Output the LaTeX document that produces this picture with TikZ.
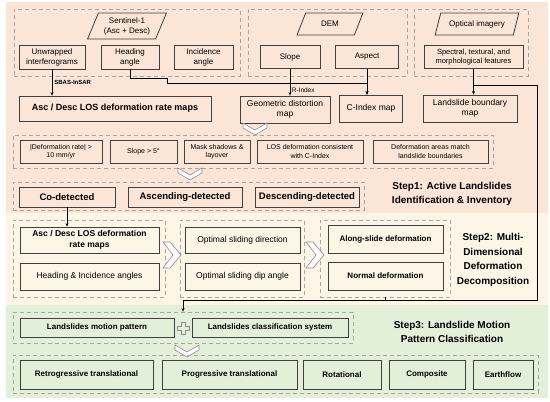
\documentclass[tikz,border=0pt]{standalone}
\usepackage{fontspec}
\setmainfont{Liberation Sans}
\usetikzlibrary{shapes.geometric,arrows.meta}

\definecolor{peachbg}{HTML}{FBE5D6}
\definecolor{creambg}{HTML}{FDF5E6}
\definecolor{greenbg}{HTML}{E2F0D9}
\definecolor{boxline}{HTML}{404040}
\definecolor{grpline}{HTML}{A6A6A6}
\definecolor{chevline}{HTML}{8C8C8C}

\tikzset{
  box/.style={draw=boxline, line width=0.8pt, inner sep=1pt, align=center,
    font=\fontsize{8}{10}\selectfont},
  boldbox/.style={box, font=\bfseries\fontsize{8}{10}\selectfont},
  smallbox/.style={box, font=\fontsize{7}{8.5}\selectfont},
  grp/.style={draw=grpline, line width=0.7pt, dash pattern=on 4pt off 3pt},
  datain/.style={trapezium, trapezium left angle=65, trapezium right angle=115,
    trapezium stretches=true, draw=boxline, line width=0.8pt, inner sep=1pt,
    align=center, font=\fontsize{8}{10}\selectfont},
  link/.style={draw=black, line width=0.7pt},
  arrowlink/.style={link, -{Stealth[length=3.5pt,width=3pt]}},
  steplabel/.style={align=center, font=\bfseries\fontsize{10}{14.5}\selectfont},
  chev/.style={draw=chevline, fill=white, line width=0.6pt, line join=miter},
  chevdown/.pic={\draw[chev] (-12,-6) -- (0,1) -- (12,-6) -- (12,-1) -- (0,6) -- (-12,-1) -- cycle;},
  chevright/.pic={\draw[chev] (-9,-13) -- (1,0) -- (-9,13) -- (-2,13) -- (9,0) -- (-2,-13) -- cycle;},
}

\begin{document}
\begin{tikzpicture}[x=1pt,y=-1pt]
  \useasboundingbox (0,0) rectangle (550,402);
  % step backgrounds
  \fill[peachbg] (6,2) rectangle (548,213);
  \fill[creambg] (6,213) rectangle (548,305);
  \fill[greenbg] (6,305) rectangle (548,398);

  % step 1: data sources
  \node[grp, minimum width=226pt, minimum height=67pt] (gsen) at (127,42.5) {};
  \node[grp, minimum width=159pt, minimum height=67pt] (gdem) at (327.5,42.5) {};
  \node[grp, minimum width=114pt, minimum height=67pt] (gopt) at (471,42.5) {};
  \node[datain, fill=peachbg, minimum width=79pt, minimum height=26pt] (sen) at (127,26) {Sentinel-1\\(Asc + Desc)};
  \node[datain, fill=peachbg, minimum width=66pt, minimum height=22pt] (dem) at (330,24) {DEM};
  \node[datain, fill=peachbg, minimum width=84pt, minimum height=22pt] (opt) at (477,24) {Optical imagery};
  \node[box, fill=peachbg, minimum width=66pt, minimum height=24pt] (unw) at (52,57) {Unwrapped\\interferograms};
  \node[box, fill=peachbg, minimum width=58pt, minimum height=24pt] (head) at (130,57) {Heading\\angle};
  \node[box, fill=peachbg, minimum width=59pt, minimum height=24pt] (inc) at (203.5,57) {Incidence\\angle};
  \node[box, fill=peachbg, minimum width=60pt, minimum height=23pt] (slope) at (290,57) {Slope};
  \node[box, fill=peachbg, minimum width=63pt, minimum height=23pt] (asp) at (367,57) {Aspect};
  \node[box, fill=peachbg, minimum width=99pt, minimum height=23pt,
    font=\fontsize{7.5}{9.5}\selectfont] (spec) at (473.5,57) {Spectral, textural, and\\morphological features};

  % step 1: derived maps
  \node[boldbox, fill=peachbg, minimum width=192pt, minimum height=25pt,
    font=\bfseries\fontsize{9}{11}\selectfont] (los) at (115,108.5) {Asc / Desc LOS deformation rate maps};
  \node[box, fill=peachbg, minimum width=90pt, minimum height=27pt,
    font=\fontsize{8.5}{10.5}\selectfont] (geo) at (285,109.5) {Geometric distortion\\map};
  \node[box, fill=peachbg, minimum width=63pt, minimum height=27pt,
    font=\fontsize{8.5}{10.5}\selectfont] (cidx) at (371,108.5) {C-Index map};
  \node[box, fill=peachbg, minimum width=94pt, minimum height=27pt,
    font=\fontsize{8.5}{10.5}\selectfont] (bnd) at (470,108.5) {Landslide boundary\\map};

  \draw[arrowlink] (unw.south) -- (unw.south |- los.north)
    node[midway, right, font=\bfseries\fontsize{6}{7}\selectfont, inner sep=2pt] {SBAS-InSAR};
  \draw[arrowlink] (head.south) |- (167,78) |- (asp.south |- 0,83) -- (asp.south |- cidx.north);
  \draw[arrowlink] (asp.south) -- (asp.south |- cidx.north);
  \draw[arrowlink] (slope.south) -- (slope.south |- geo.north)
    node[pos=0.78, right, font=\fontsize{6.5}{7}\selectfont, inner sep=1.5pt] {R-Index};
  \draw[arrowlink] (spec.south) -- (spec.south |- bnd.north);
  \pic at (255,129) {chevdown};

  % step 1: filters
  \node[grp, minimum width=480pt, minimum height=33pt] (gflt) at (253,151.5) {};
  \node[smallbox, fill=peachbg, minimum width=82pt, minimum height=23pt] (f1) at (61,151.5) {|Deformation rate| >\\10 mm/yr};
  \node[smallbox, fill=peachbg, minimum width=67pt, minimum height=23pt] (f2) at (143.5,151.5) {Slope > 5°};
  \node[smallbox, fill=peachbg, minimum width=66pt, minimum height=23pt] (f3) at (217,151.5) {Mask shadows \&\\layover};
  \node[smallbox, fill=peachbg, minimum width=106pt, minimum height=23pt] (f4) at (310,151.5) {LOS deformation consistent\\with C-Index};
  \node[smallbox, fill=peachbg, minimum width=115pt, minimum height=23pt] (f5) at (430.5,151.5) {Deformation areas match\\landslide boundaries};
  \pic at (190,174) {chevdown};

  % step 1: detection
  \node[grp, minimum width=351pt, minimum height=28pt] (gdet) at (188.5,196) {};
  \node[boldbox, fill=peachbg, minimum width=96pt, minimum height=20pt,
    font=\bfseries\fontsize{9.5}{11}\selectfont] (codet) at (67,197) {Co-detected};
  \node[boldbox, fill=peachbg, minimum width=114pt, minimum height=20pt,
    font=\bfseries\fontsize{9.5}{11}\selectfont] (ascdet) at (185,197) {Ascending-detected};
  \node[boldbox, fill=peachbg, minimum width=104pt, minimum height=20pt,
    font=\bfseries\fontsize{9.5}{11}\selectfont] (descdet) at (307,197) {Descending-detected};
  \node[steplabel] (st1) at (452,194) {Step1: Active Landslides\\Identification \& Inventory};

  % step 2
  \node[grp, minimum width=152pt, minimum height=77pt] (g2a) at (89,258.5) {};
  \node[grp, minimum width=124pt, minimum height=77pt] (g2b) at (242,258.5) {};
  \node[grp, minimum width=130pt, minimum height=77pt] (g2c) at (385,258.5) {};
  \node[boldbox, fill=creambg, minimum width=139pt, minimum height=26pt,
    font=\bfseries\fontsize{8.5}{10.5}\selectfont] (los2) at (89.5,240) {Asc / Desc LOS deformation\\rate maps};
  \node[box, fill=creambg, minimum width=139pt, minimum height=27pt,
    font=\fontsize{8.5}{10.5}\selectfont] (hia) at (89.5,276.5) {Heading \& Incidence angles};
  \node[box, fill=creambg, minimum width=115pt, minimum height=26pt,
    font=\fontsize{8.5}{10.5}\selectfont] (osd) at (242.5,240) {Optimal sliding direction};
  \node[box, fill=creambg, minimum width=115pt, minimum height=27pt,
    font=\fontsize{8.5}{10.5}\selectfont] (osa) at (242.5,276.5) {Optimal sliding dip angle};
  \node[boldbox, fill=creambg, minimum width=115pt, minimum height=28pt] (asd) at (385.5,239) {Along-slide deformation};
  \node[boldbox, fill=creambg, minimum width=115pt, minimum height=28pt] (nd) at (385.5,276) {Normal deformation};
  \node[steplabel] (st2) at (493,260) {Step2: Multi-\\Dimensional\\Deformation\\Decomposition};
  \pic at (172,255) {chevright};
  \pic at (315,255) {chevright};
  \draw[arrowlink] (codet.south) -- (codet.south |- los2.north);

  % step 3
  \node[grp, minimum width=340pt, minimum height=31pt] (g3a) at (183,327.5) {};
  \node[boldbox, fill=greenbg, minimum width=154pt, minimum height=19pt] (lmp) at (97,327.5) {Landslides motion pattern};
  \node[boldbox, fill=greenbg, minimum width=156pt, minimum height=19pt] (lcs) at (270,327.5) {Landslides classification system};
  \draw[chev, fill=greenbg] (183,328) ++(-2,-6) -- ++(4,0) -- ++(0,4) -- ++(4,0) -- ++(0,4) -- ++(-4,0)
    -- ++(0,4) -- ++(-4,0) -- ++(0,-4) -- ++(-4,0) -- ++(0,-4) -- ++(4,0) -- cycle;
  \node[steplabel] (st3) at (452,332) {Step3: Landslide Motion\\Pattern Classification};
  \pic at (187,351) {chevdown};
  \node[grp, minimum width=525pt, minimum height=38pt] (g3b) at (275.5,374) {};
  \node[boldbox, fill=greenbg, minimum width=133pt, minimum height=29pt] (t1) at (86.5,374.5) {Retrogressive translational};
  \node[boldbox, fill=greenbg, minimum width=135pt, minimum height=29pt] (t2) at (229.5,374.5) {Progressive translational};
  \node[boldbox, fill=greenbg, minimum width=78pt, minimum height=29pt] (t3) at (342,374.5) {Rotational};
  \node[boldbox, fill=greenbg, minimum width=76pt, minimum height=29pt] (t4) at (427,374.5) {Composite};
  \node[boldbox, fill=greenbg, minimum width=60pt, minimum height=29pt] (t5) at (503,374.5) {Earthflow};

  % boundary map and decomposition feed step 3
  \coordinate (r1) at (537,85);
  \coordinate (r2) at (537,300);
  \coordinate (j3) at (183,300);
  \draw[arrowlink] (spec.south |- r1) -- (r1) -- (r2) -- (j3) -- (j3 |- g3a.north);
  \draw[link] (g2c.south) -- (g2c.south |- j3);
\end{tikzpicture}
\end{document}
